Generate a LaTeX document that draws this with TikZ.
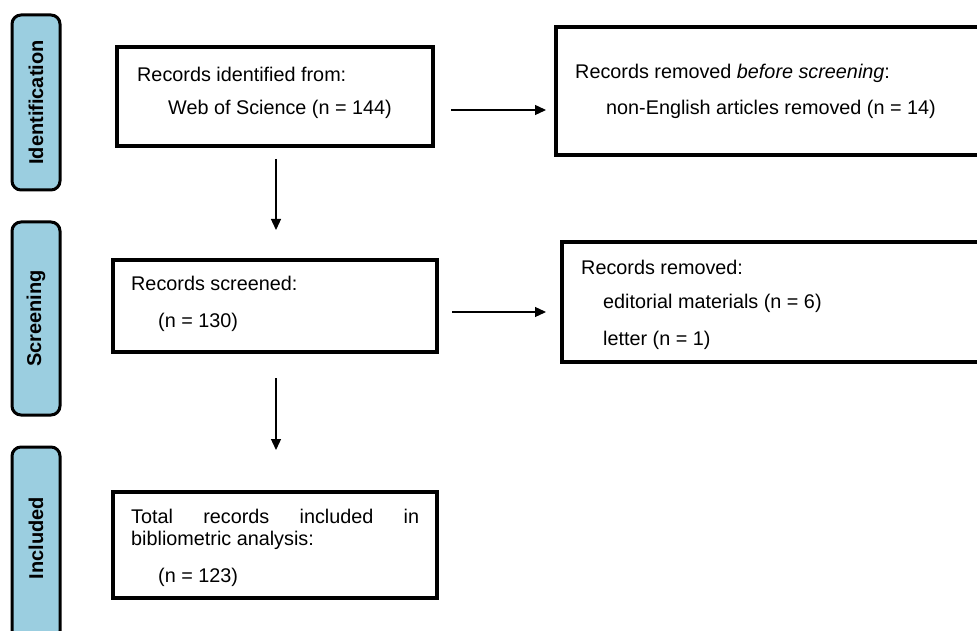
\documentclass[tikz,border=0pt]{standalone}
\usepackage{fontspec}
\setmainfont{Liberation Sans}
\usetikzlibrary{arrows.meta,calc}
\definecolor{stage}{RGB}{155,206,224}
\begin{document}
\begin{tikzpicture}[x=1pt,y=-1pt,
  box/.style={draw=black, line width=4pt, rectangle, inner sep=0pt},
  stagebox/.style={draw=black, line width=3pt, fill=stage, rounded corners=9pt, inner sep=0pt, minimum width=48pt},
  stagelabel/.style={font=\fontsize{20}{22}\selectfont\bfseries, rotate=90, inner sep=0pt},
  txt/.style={anchor=base west, inner sep=0pt, font=\fontsize{19.8}{22}\selectfont},
  arr/.style={line width=1.3pt, -{Triangle[length=11pt,width=10pt]}}]
\useasboundingbox (0,0) rectangle (977,631);
\clip (0,0) rectangle (977,631);
% stage bars
\node[stagebox, minimum height=175pt] (s1) at (36,102.5) {};
\node[stagelabel] (l1) at (s1.center) {Identification};
\node[stagebox, minimum height=193pt] (s2) at (36,318.5) {};
\node[stagelabel] (l2) at (s2.center) {Screening};
\node[stagebox, minimum height=193pt] (s3) at (36,543.5) {};
\node[stagelabel] (l3) at (36,538) {Included};
% boxes
\node[box, minimum width=316pt, minimum height=99pt] (b1) at (275,96.5) {};
\node[box, minimum width=454pt, minimum height=128pt] (b2) at (783,91) {};
\node[box, minimum width=324pt, minimum height=92pt] (b3) at (275,306) {};
\node[box, minimum width=448pt, minimum height=120pt] (b4) at (786,302) {};
\node[box, minimum width=324pt, minimum height=106pt] (b5) at (275,545) {};
% texts
\node[txt] (t1) at (137,82) {Records identified from:};
\node[txt] (t2) at (168,115) {Web of Science (n = 144)};
\node[txt] (t3) at (575,79) {Records removed \textit{before screening}:};
\node[txt] (t4) at (606,115) {non-English articles removed (n = 14)};
\node[txt] (t5) at (131,290) {Records screened:};
\node[txt] (t6) at (158,327) {(n = 130)};
\node[txt] (t7) at (581,274) {Records removed:};
\node[txt] (t8) at (603,308) {editorial materials (n = 6)};
\node[txt] (t9) at (603,345) {letter (n = 1)};
\node[txt] (t10) at (131,523) {\makebox[288pt][s]{Total records included in}};
\node[txt] (t11) at (131,545) {bibliometric analysis:};
\node[txt] (t12) at (158,582) {(n = 123)};
% arrows
\draw[arr] ($(b1.east|-0,110)+(16,0)$) -- ($(b2.west|-0,110)+(-8,0)$);
\draw[arr] ($(b3.east|-0,312)+(13,0)$) -- ($(b4.west|-0,312)+(-14,0)$);
\draw[arr] ($(b1.south-|276,0)+(0,11)$) -- ($(b3.north-|276,0)+(0,-28)$);
\draw[arr] ($(b3.south-|276,0)+(0,24)$) -- ($(b5.north-|276,0)+(0,-40)$);
\end{tikzpicture}
\end{document}
